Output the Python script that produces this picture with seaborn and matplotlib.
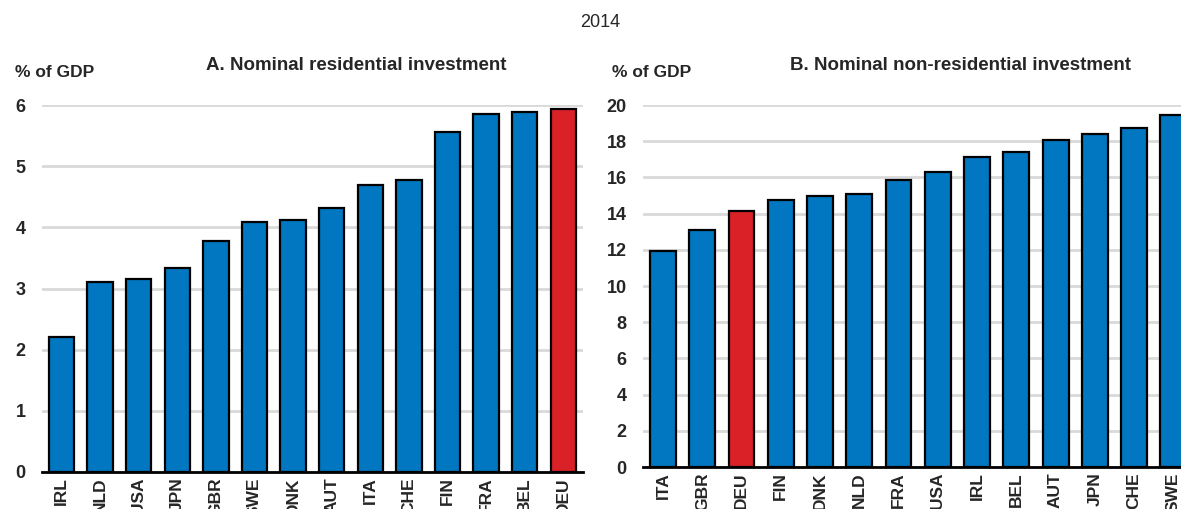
import matplotlib
matplotlib.use("Agg")
import matplotlib.pyplot as plt
import seaborn as sns

# data (2014, % of GDP)
res_countries = ["IRL", "NLD", "USA", "JPN", "GBR", "SWE", "DNK", "AUT", "ITA", "CHE", "FIN", "FRA", "BEL", "DEU"]
res_values = [2.21, 3.11, 3.16, 3.33, 3.78, 4.09, 4.12, 4.31, 4.70, 4.78, 5.56, 5.85, 5.89, 5.93]

nonres_countries = ["ITA", "GBR", "DEU", "FIN", "DNK", "NLD", "FRA", "USA", "IRL", "BEL", "AUT", "JPN", "CHE", "SWE"]
nonres_values = [11.93, 13.09, 14.14, 14.73, 14.97, 15.07, 15.85, 16.33, 17.12, 17.42, 18.08, 18.43, 18.73, 19.48]

BLUE = "#0077C0"
RED = "#DA2128"
highlight = "DEU"

sns.set_theme(style="white")
plt.rcParams["font.family"] = ["Liberation Sans", "DejaVu Sans"]

fig = plt.figure(figsize=(11.81, 5.09), dpi=100)
ax_a = fig.add_axes([0.0357, 0.0727, 0.4576, 0.721])
ax_b = fig.add_axes([0.5448, 0.0825, 0.4653, 0.711])


def draw_panel(ax, countries, values, ymax, step):
    pal = {c: (RED if c == highlight else BLUE) for c in countries}
    sns.barplot(x=countries, y=values, hue=countries, palette=pal, legend=False,
                width=0.66, edgecolor="black", linewidth=1.6, saturation=1,
                ax=ax, zorder=3)
    ax.set_ylim(0, ymax)
    ax.set_yticks(range(0, ymax + 1, step))
    ax.grid(axis="y", color="#d9d9d9", linewidth=2, zorder=0)
    ax.set_axisbelow(True)
    for s in ["left", "right", "top"]:
        ax.spines[s].set_visible(False)
    ax.spines["bottom"].set_color("black")
    ax.spines["bottom"].set_linewidth(2)
    ax.spines["bottom"].set_zorder(4)
    ax.tick_params(axis="y", length=0, pad=12, labelsize=13)
    ax.tick_params(axis="x", length=0, pad=4, labelsize=12.5, rotation=90)
    for lab in ax.get_yticklabels() + ax.get_xticklabels():
        lab.set_fontweight("bold")
    ax.set_xlabel("")
    ax.set_ylabel("")


draw_panel(ax_a, res_countries, res_values, 6, 1)
draw_panel(ax_b, nonres_countries, nonres_values, 20, 2)

fig.text(0.508, 0.955, "2014", ha="center", va="center", fontsize=13)
fig.text(0.302, 0.872, "A. Nominal residential investment", ha="center", va="center",
         fontsize=13.5, fontweight="bold")
fig.text(0.013, 0.857, "% of GDP", ha="left", va="center", fontsize=12.5, fontweight="bold")
fig.text(0.813, 0.872, "B. Nominal non-residential investment", ha="center", va="center",
         fontsize=13.5, fontweight="bold")
fig.text(0.518, 0.857, "% of GDP", ha="left", va="center", fontsize=12.5, fontweight="bold")

fig.savefig("out.png", dpi=100)
